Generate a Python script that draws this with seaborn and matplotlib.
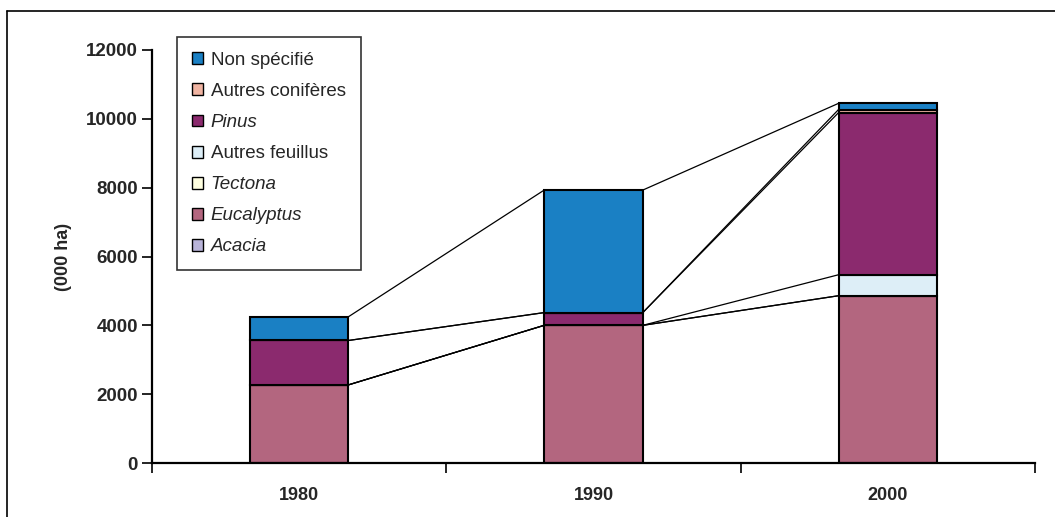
import matplotlib
matplotlib.use("Agg")
import matplotlib.pyplot as plt
from matplotlib.lines import Line2D
from matplotlib.patches import Patch
import numpy as np
import pandas as pd
import seaborn as sns

# Plantation area by genus, thousand hectares
years = ["1980", "1990", "2000"]
acacia = [0, 0, 0]
eucalyptus = [2270, 4000, 4860]
tectona = [0, 0, 0]
autres_feuillus = [0, 0, 610]
pinus = [1290, 370, 4710]
autres_coniferes = [0, 0, 90]
non_specifie = [690, 3560, 180]

# stacking order bottom -> top
series_names = ["Acacia", "Eucalyptus", "Tectona", "Autres feuillus",
                "Pinus", "Autres conifères", "Non spécifié"]
series_values = [acacia, eucalyptus, tectona, autres_feuillus,
                 pinus, autres_coniferes, non_specifie]
series_colors = ["#B9B4D9", "#B3667F", "#FFFFE0", "#DDEEF7",
                 "#8B2A6E", "#F0B4A2", "#1A80C4"]
italic_names = {"Acacia", "Eucalyptus", "Tectona", "Pinus"}

sns.set_theme(style="white")
plt.rcParams["font.family"] = ["Liberation Sans", "DejaVu Sans"]

fig = plt.figure(figsize=(10.55, 5.17), dpi=100)
ax = fig.add_axes([152 / 1055, 1 - 463 / 517, (1035 - 152) / 1055, (463 - 50) / 517])

bar_w = 0.335
xpos = np.arange(len(years))
bottom = np.zeros(len(years))
tops = []
for name, vals, col in zip(series_names, series_values, series_colors):
    df = pd.DataFrame({"x": xpos, "v": vals})
    sns.barplot(data=df, x="x", y="v", order=list(xpos), color=col,
                width=bar_w, bottom=bottom, saturation=1,
                edgecolor="black", linewidth=1.5, ax=ax, native_scale=True)
    bottom = bottom + np.array(vals, dtype=float)
    tops.append(bottom.copy())

# series lines joining each stack boundary between neighbouring bars
for t in tops:
    for i in range(len(years) - 1):
        ax.plot([xpos[i] + bar_w / 2, xpos[i + 1] - bar_w / 2], [t[i], t[i + 1]],
                color="black", lw=0.9, zorder=1)

ax.set_xlim(-0.5, 2.5)
ax.set_ylim(0, 12000)
ax.set_yticks(np.arange(0, 12001, 2000))
ax.set_yticklabels([str(v) for v in range(0, 12001, 2000)],
                   fontsize=13.5, fontweight="bold")
ax.set_xticks([-0.5, 0.5, 1.5, 2.5])
ax.set_xticklabels([])
ax.set_xticks(xpos, minor=True)
ax.set_xticklabels(years, minor=True, fontsize=13, fontweight="bold")
ax.tick_params(axis="x", which="major", direction="out", length=7, width=1.2,
               color="black", bottom=True)
ax.tick_params(axis="x", which="minor", length=0, pad=17)
ax.tick_params(axis="y", direction="out", length=7, width=1.2, color="black",
               left=True, pad=3)
ax.set_xlabel("")
ax.set_ylabel("(000 ha)", fontsize=13, fontweight="bold", labelpad=10)
for s in ["top", "right"]:
    ax.spines[s].set_visible(False)
for s in ["left", "bottom"]:
    ax.spines[s].set_color("black")
    ax.spines[s].set_linewidth(1.6)
ax.grid(False)

# legend, top entry first
handles = [Patch(facecolor=c, edgecolor="black", linewidth=1.0)
           for c in series_colors[::-1]]
leg = ax.legend(handles, series_names[::-1], loc="upper left",
                bbox_to_anchor=(25 / 883, 1 + 13 / 413), borderaxespad=0,
                fontsize=13.5, frameon=True, fancybox=False, edgecolor="black",
                handlelength=0.6, handleheight=0.6, handletextpad=0.4,
                labelspacing=0.75, borderpad=0.8)
leg.get_frame().set_linewidth(1.2)
for txt in leg.get_texts():
    if txt.get_text() in italic_names:
        txt.set_fontstyle("italic")

# outer chart frame
fig.add_artist(Line2D([7 / 1055, 7 / 1055], [0, 1 - 11 / 517],
                      transform=fig.transFigure, color="black", lw=1.2))
fig.add_artist(Line2D([7 / 1055, 1], [1 - 11 / 517, 1 - 11 / 517],
                      transform=fig.transFigure, color="black", lw=1.2))

fig.savefig("out.png", dpi=100)
